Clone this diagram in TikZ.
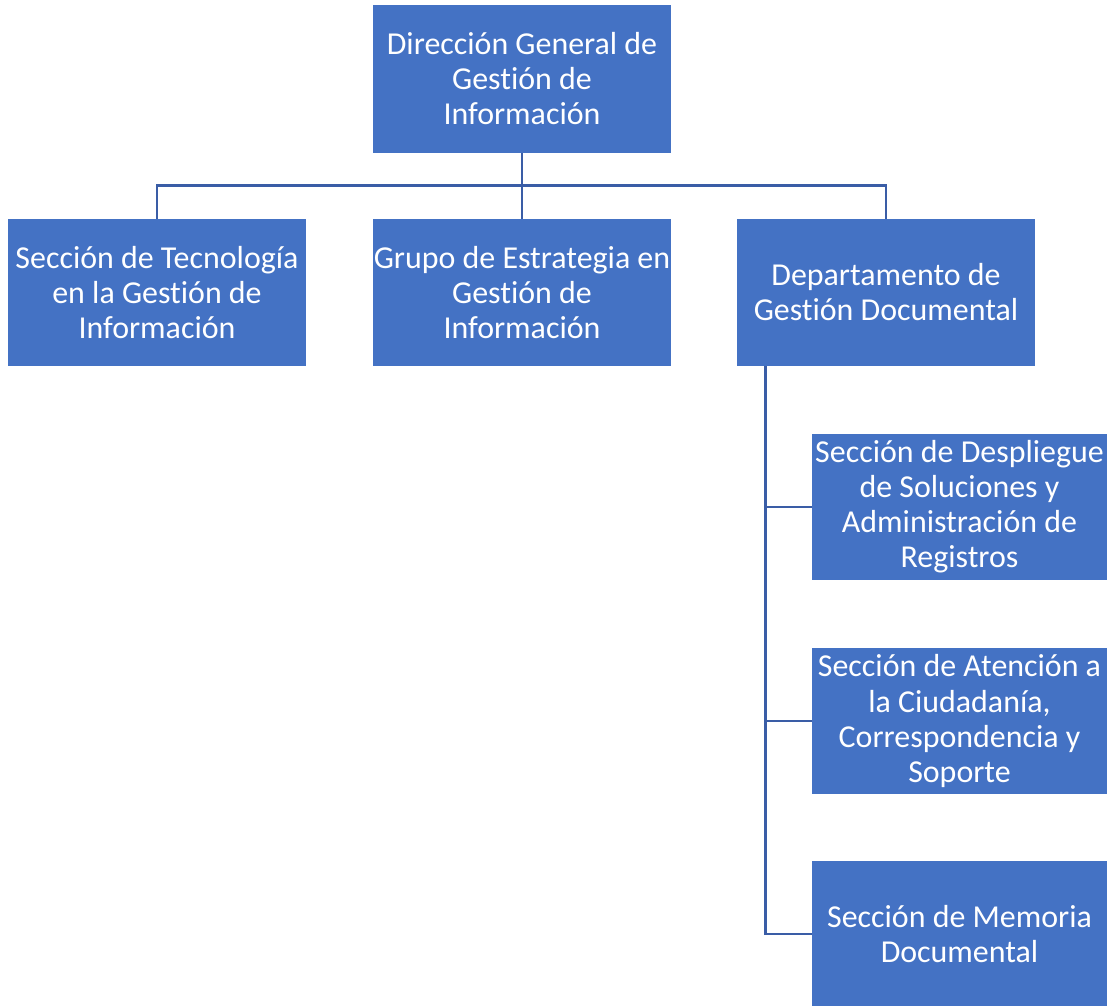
\documentclass[tikz,border=0pt]{standalone}
\usepackage{fontspec}
\setmainfont[Ligatures=NoCommon]{Carlito}
\usepackage{tikz}
\usetikzlibrary{positioning,calc}

\definecolor{orgblue}{HTML}{4472C4}
\definecolor{orgline}{HTML}{3A5DA6}

\begin{document}
\begin{tikzpicture}[
    x=0.025cm, y=-0.025cm,
    unit/.style={rectangle, fill=orgblue, text=white, minimum width=7.45cm, minimum height=3.675cm,
        inner sep=0pt, align=center, font=\fontsize{22.7}{24.9}\selectfont},
    subunit/.style={unit, minimum width=7.375cm, minimum height=3.65cm},
    link/.style={draw=orgline, line width=2pt}
]
    \useasboundingbox (0,0) rectangle (1107,1006);

    \node[unit] (dg) at (522,79) {Dirección General de\\Gestión de\\Información};

    \node[unit] (tec) at (157,292.5) {Sección de Tecnología\\en la Gestión de\\Información};
    \node[unit] (grp) at (522,292.5) {Grupo de Estrategia en\\Gestión de\\Información};
    \node[unit] (doc) at (886,292.5) {Departamento de\\Gestión Documental};

    \node[subunit] (reg) at (959.5,507) {Sección de Despliegue\\de Soluciones y\\Administración de\\Registros};
    \node[subunit] (ciu) at (959.5,721) {Sección de Atención a\\la Ciudadanía,\\Correspondencia y\\Soporte};
    \node[subunit] (mem) at (959.5,934) {Sección de Memoria\\Documental};

    % upper level
    \draw[link] (dg.south) -- ++(0,33) coordinate (bus);
    \draw[link] (tec.north) |- (bus) -| (doc.north);
    \draw[link] (bus) -- (grp.north);

    % department sections
    \draw[link] ([xshift=0.725cm]doc.south west) |- (mem.west);
    \draw[link] ([xshift=0.725cm]doc.south west) |- (reg.west);
    \draw[link] ([xshift=0.725cm]doc.south west) |- (ciu.west);
\end{tikzpicture}
\end{document}
